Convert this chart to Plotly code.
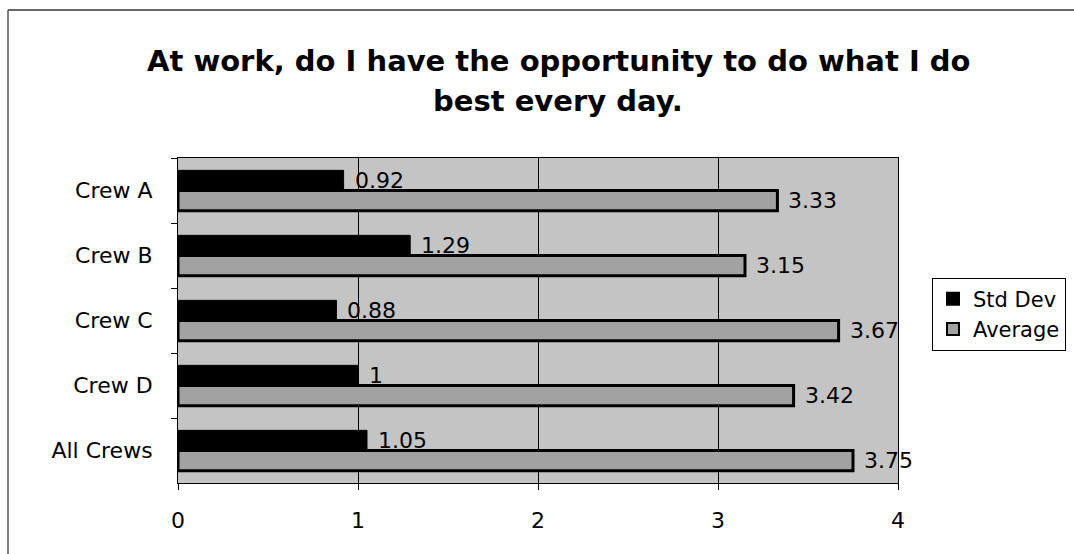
import plotly.graph_objects as go

categories = ["Crew A", "Crew B", "Crew C", "Crew D", "All Crews"]
std_dev = [0.92, 1.29, 0.88, 1, 1.05]
average = [3.33, 3.15, 3.67, 3.42, 3.75]
std_labels = ["0.92", "1.29", "0.88", "1", "1.05"]
avg_labels = ["3.33", "3.15", "3.67", "3.42", "3.75"]
title_lines = ["At work, do I have the opportunity to do what I do",
               "best every day."]

font_family = "DejaVu Sans, Verdana, sans-serif"

fig = go.Figure()
fig.add_trace(go.Bar(
    y=categories, x=std_dev, orientation="h", name="Std Dev",
    marker=dict(color="#000000", line=dict(color="#000000", width=1)),
    legendgroup="a",
))
fig.add_trace(go.Bar(
    y=categories, x=average, orientation="h", name="Average",
    marker=dict(color="#a2a2a2", line=dict(color="#000000", width=3)),
    legendgroup="b",
))

annotations = []
# title lines
annotations.append(dict(text="<b>" + title_lines[0] + "</b>", xref="paper", yref="paper",
                        x=(558 - 178) / 720, y=(483 - 61) / 325, xanchor="center",
                        yanchor="middle", showarrow=False,
                        font=dict(size=29, color="#000000", family=font_family)))
annotations.append(dict(text="<b>" + title_lines[1] + "</b>", xref="paper", yref="paper",
                        x=(558 - 178) / 720, y=(483 - 101) / 325, xanchor="center",
                        yanchor="middle", showarrow=False,
                        font=dict(size=29, color="#000000", family=font_family)))
# value labels
for cat, v, lab in zip(categories, std_dev, std_labels):
    annotations.append(dict(text=lab, x=v, y=cat, xref="x", yref="y",
                            xanchor="left", yanchor="middle", xshift=9, yshift=10,
                            showarrow=False,
                            font=dict(size=22, color="#000000", family=font_family)))
for cat, v, lab in zip(categories, average, avg_labels):
    annotations.append(dict(text=lab, x=v, y=cat, xref="x", yref="y",
                            xanchor="left", yanchor="middle", xshift=9, yshift=-10,
                            showarrow=False,
                            font=dict(size=22, color="#000000", family=font_family)))

fig.update_layout(
    width=1074, height=554,
    margin=dict(l=178, r=176, t=158, b=71, autoexpand=False),
    paper_bgcolor="#ffffff",
    plot_bgcolor="#c4c4c4",
    barmode="group", bargap=0.38, bargroupgap=0,
    font=dict(family=font_family, color="#000000"),
    showlegend=True,
    legend=dict(x=(932 - 178) / 720, xanchor="left", y=(483 - 314) / 325, yanchor="middle",
                traceorder="normal", bgcolor="#ffffff",
                bordercolor="#000000", borderwidth=1,
                font=dict(size=21, color="#000000", family=font_family),
                itemsizing="constant", tracegroupgap=10, itemwidth=30),
    xaxis=dict(range=[0, 4], dtick=1, tick0=0, showgrid=True,
               gridcolor="#000000", gridwidth=1, zeroline=False,
               showline=True, linecolor="#000000", linewidth=1, mirror=True,
               ticks="outside", ticklen=6, tickcolor="#000000",
               tickfont=dict(size=22, family=font_family, color="#000000"),
               ticklabelstandoff=12),
    yaxis=dict(autorange="reversed", showline=True, linecolor="#000000",
               linewidth=1, mirror=True, ticks="outside", ticklen=6,
               tickson="boundaries", tickcolor="#000000", showgrid=False,
               tickfont=dict(size=22, family=font_family, color="#000000"),
               ticklabelstandoff=20),
    annotations=annotations,
    shapes=[
        dict(type="line", xref="paper", yref="paper",
             x0=(8 - 178) / 720, x1=(1074 - 178) / 720,
             y0=(483 - 10) / 325, y1=(483 - 10) / 325,
             line=dict(color="#333333", width=1.5)),
        dict(type="line", xref="paper", yref="paper",
             x0=(8 - 178) / 720, x1=(8 - 178) / 720,
             y0=(483 - 10) / 325, y1=(483 - 554) / 325,
             line=dict(color="#555555", width=1.5)),
    ],
)

fig.write_html("out.html")
